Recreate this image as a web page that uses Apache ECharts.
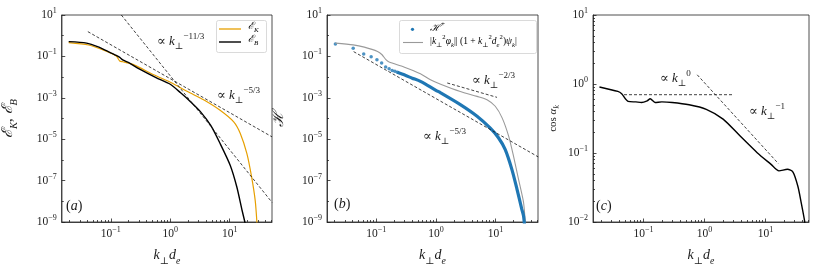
<!DOCTYPE html>
<html><head><meta charset="utf-8">
<script src="https://cdn.jsdelivr.net/npm/echarts@6/dist/echarts.min.js"></script>
<style>html,body{margin:0;padding:0;background:#fff}#c{width:822px;height:271px}</style>
</head><body><div id="c"></div>
<script>
// ---------- data ----------
// panel (a)
const kA_B = [0.0195,0.039,0.063,0.084,0.123,0.141,0.158,0.2,0.3,0.575,1.0,1.51,2.19,3.24,4.8,6.9,10.2,13.2,16.2,18.5,19.5];
const eB   = [0.52,0.44,0.28,0.19,0.112,0.089,0.068,0.05,0.025,0.0095,0.0045,0.0017,6.5e-4,2.1e-4,4.6e-5,6.2e-6,5.5e-7,4.9e-8,3.6e-9,7e-10,2e-10];
const kA_K = [0.0195,0.042,0.069,0.123,0.141,0.16,0.2,0.25,0.54,1.02,1.95,3.7,6.9,11.7,15.1,19.5,23.4,26.9,28.8,29.5];
const eK   = [0.46,0.355,0.22,0.105,0.06,0.055,0.047,0.038,0.0126,0.0055,0.002,7.8e-4,2.5e-4,6.9e-5,1.9e-5,2e-6,1.5e-7,1.1e-8,9e-10,2e-10];
const refA53k = [0.041,51.6], refA53v = [1.57,1.3e-5];
const refA113k = [0.15,51.6], refA113v = [10,8.9e-9];
// panel (b)
const kB_dots = [0.0206,0.041,0.0615,0.082,0.1025,0.123,0.1435,0.164,0.1845,0.205,0.2255];
const hDots   = [0.40,0.25,0.129,0.095,0.069,0.048,0.031,0.025,0.021,0.019,0.017];
const kB_line = [0.2255,0.3,0.4,0.55,1.0,1.2,2.57,4.9,8.1,11.2,14.5,18.8,22.9,27.5,29.5,31];
const hLine   = [0.017,0.0125,0.0089,0.0062,0.0023,0.00174,4.7e-4,1.29e-4,3.5e-5,1.17e-5,3.2e-6,3.5e-7,3.9e-8,4.3e-9,2e-9,5e-10];
const kB_g = [0.0206,0.041,0.063,0.105,0.125,0.145,0.164,0.29,0.55,0.81,1.2,2.57,4.9,7.2,9.9,12.9,16.6,20,24.3,29.5,31.6,33];
const gV   = [0.44,0.36,0.28,0.174,0.12,0.069,0.054,0.031,0.0145,0.0074,0.0045,0.002,0.00117,8.1e-4,3.9e-4,1.07e-4,1.4e-5,1.55e-6,1.17e-7,8.9e-9,1e-9,3e-10];
const refB53k = [0.0417,52], refB53v = [0.17,1.4e-6];
const refB23k = [1.55,10.6], refB23v = [0.0052,0.00105];
// panel (c)
const kC = [0.019,0.038,0.044,0.056,0.075,0.093,0.115,0.129,0.155,0.2,0.295,0.56,1.07,2.02,3.84,7.3,12.2,16.6,22.9,28.2,33.9,38.5,43.6,45];
const cosA = [0.905,0.78,0.72,0.56,0.55,0.54,0.57,0.61,0.54,0.55,0.54,0.5,0.43,0.31,0.176,0.101,0.069,0.055,0.058,0.053,0.033,0.019,0.0105,0.008];
const refC0k = [0.048,3.0], refC0v = [0.70,0.70];
const refC1k = [0.76,16.3], refC1v = [1.36,0.070];
// tick labels
const xLabelVals = [0.1,1,10];
const yLabelValsAB = [1e-9,1e-7,1e-5,1e-3,1e-1,10];
const yLabelValsC = [1e-2,1e-1,1,10];

// ---------- styles / layout ----------
const F = "'Liberation Serif','DejaVu Serif',serif";
const C = '#1a1a1a';
const ORANGE = '#E69F00', BLUE = '#1f77b4', GRAY = '#9a9a9a';
const XMIN = 0.0149, XMAX = 51.6;
const grids = [
  {left:60, top:15, width:212, height:208},
  {left:327, top:15, width:211, height:208},
  {left:593, top:15, width:216, height:208}
];
function rich(s){
  return {
    n:{fontFamily:F,fontSize:s,color:C,lineHeight:s*1.5},
    i:{fontFamily:F,fontSize:s,color:C,fontStyle:'italic',lineHeight:s*1.5},
    c:{fontFamily:"'DejaVu Serif',serif",fontSize:s,color:C,fontStyle:'italic',lineHeight:s*1.5},
    sub:{fontFamily:F,fontSize:s*0.7,color:C,verticalAlign:'bottom',lineHeight:s*0.7},
    isub:{fontFamily:F,fontSize:s*0.7,color:C,fontStyle:'italic',verticalAlign:'bottom',lineHeight:s*0.7},
    sup:{fontFamily:F,fontSize:s*0.7,color:C,verticalAlign:'top',lineHeight:s*0.7}
  };
}
const tickRich = {
  b:{fontFamily:F,fontSize:11.5,color:C,lineHeight:16},
  s:{fontFamily:F,fontSize:8,color:C,verticalAlign:'top',lineHeight:8}
};
function fmtPow(v){ const e=Math.round(Math.log10(v)); return '{b|10}{s|'+(e<0?'\u2212'+(-e):e)+'}'; }
function decades(a,b){ const r=[]; for(let e=Math.ceil(Math.log10(a)-1e-9); e<=Math.floor(Math.log10(b)+1e-9); e++) r.push(Math.pow(10,e)); return r; }
function minors(a,b){ const r=[]; for(let e=Math.floor(Math.log10(a)); e<=Math.ceil(Math.log10(b)); e++) for(let m=2;m<=9;m++){const v=m*Math.pow(10,e); if(v>=a&&v<=b) r.push(v);} return r; }
const lineCol = {color:'#222',width:0.8};

const xAxis=[], yAxis=[];
grids.forEach((g,gi)=>{
  xAxis.push({type:'log',logBase:10,gridIndex:gi,min:XMIN,max:XMAX,position:'bottom',
    axisLine:{show:true,lineStyle:lineCol},
    axisTick:{show:true,inside:true,length:3.5,lineStyle:lineCol,customValues:decades(XMIN,XMAX)},
    axisLabel:{show:true,customValues:xLabelVals,formatter:fmtPow,rich:tickRich,margin:4},
    splitLine:{show:false},minorTick:{show:false},
    name:'{i|k}{sub|\u22a5}{i|d}{isub|e}',nameLocation:'middle',nameGap:23,
    nameTextStyle:{rich:rich(14)}});
  xAxis.push({type:'log',logBase:10,gridIndex:gi,min:XMIN,max:XMAX,position:'bottom',
    axisLine:{show:false},axisTick:{show:true,inside:true,length:2,lineStyle:lineCol,customValues:minors(XMIN,XMAX)},
    axisLabel:{show:false},splitLine:{show:false}});
  const isC = gi===2;
  const ymin = isC?1e-2:1e-9, ymax = 10;
  const lab = isC?yLabelValsC:yLabelValsAB;
  const yname = gi===0 ? '{c|\u2130}{isub|K}{n|, }{c|\u2130}{isub|B}' : gi===1 ? '{c|\u210b}' : '{n|cos }{i|\u03b1}{isub|k}';
  yAxis.push({type:'log',logBase:10,gridIndex:gi,min:ymin,max:ymax,position:'left',
    axisLine:{show:true,lineStyle:lineCol},
    axisTick:{show:true,inside:true,length:3.5,lineStyle:lineCol,customValues:lab},
    axisLabel:{show:true,customValues:lab,formatter:fmtPow,rich:tickRich,margin:5},
    splitLine:{show:false},
    name:yname,nameLocation:'middle',nameRotate:90,nameGap:gi===0?42:(gi===1?37:32),
    nameTextStyle:{rich:rich(gi===2?11:15)}});
  const ym = isC ? minors(ymin,ymax) : decades(ymin,ymax).filter(v=>lab.indexOf(v)<0);
  yAxis.push({type:'log',logBase:10,gridIndex:gi,min:ymin,max:ymax,position:'left',
    axisLine:{show:false},axisTick:{show:true,inside:true,length:2,lineStyle:lineCol,customValues:ym},
    axisLabel:{show:false},splitLine:{show:false}});
});

function pairs(k,v){ return k.map((x,i)=>[x,v[i]]); }
function line(gi,k,v,color,width,type){
  return {type:'line',xAxisIndex:gi*2,yAxisIndex:gi*2,data:pairs(k,v),showSymbol:false,symbol:'none',
    clip:true,silent:true,animation:false,lineStyle:{color:color,width:width,type:type||'solid'},smooth:0.25};
}
function dashed(gi,k,v){ const s=line(gi,k,v,'#111',0.8,[3,2]); s.smooth=false; return s; }
const series = [
  line(0,kA_K,eK,ORANGE,1.2), line(0,kA_B,eB,'#000',1.4),
  dashed(0,refA53k,refA53v), dashed(0,refA113k,refA113v),
  line(1,kB_g,gV,GRAY,1.1), line(1,kB_line,hLine,BLUE,3.2),
  {type:'scatter',xAxisIndex:2,yAxisIndex:2,data:pairs(kB_dots,hDots),symbolSize:3.5,itemStyle:{color:BLUE},silent:true,animation:false},
  dashed(1,refB53k,refB53v), dashed(1,refB23k,refB23v),
  line(2,kC,cosA,'#000',1.4), dashed(2,refC0k,refC0v), dashed(2,refC1k,refC1v)
];

function txt(x,y,text,size){ return {type:'text',left:x,top:y,style:{text:text,rich:rich(size),fill:C},z:100}; }
function ann(x,y,pow){ return txt(x,y,'{n|\u221d }{i|k}{sub|\u22a5}{sup|'+pow+'}',13); }
const R = rich(9.5);
const graphic = [
  ann(157,32,'\u221211/3'), ann(217,86,'\u22125/3'),
  txt(66,199,'{n|(}{i|a}{n|)}',14),
  ann(472,71,'\u22122/3'), ann(423,127,'\u22125/3'),
  txt(334,197,'{n|(}{i|b}{n|)}',14),
  ann(660,69,'0'), ann(749,102,'\u22121'),
  txt(596,199,'{n|(}{i|c}{n|)}',14),
  // legend (a)
  {type:'rect',shape:{x:216.5,y:20.5,width:50,height:32,r:2},style:{fill:'rgba(255,255,255,0.85)',stroke:'#d0d0d0',lineWidth:0.8},z:90},
  {type:'line',shape:{x1:219,y1:29,x2:241,y2:29},style:{stroke:ORANGE,lineWidth:1.3},z:91},
  {type:'line',shape:{x1:219,y1:42,x2:241,y2:42},style:{stroke:'#000',lineWidth:1.4},z:91},
  {type:'text',left:248,top:21,style:{text:'{c|\u2130}{isub|K}',rich:rich(10)},z:92},
  {type:'text',left:248,top:34,style:{text:'{c|\u2130}{isub|B}',rich:rich(10)},z:92},
  // legend (b)
  {type:'rect',shape:{x:399.5,y:20.5,width:137,height:33,r:2},style:{fill:'rgba(255,255,255,0.85)',stroke:'#d0d0d0',lineWidth:0.8},z:90},
  {type:'circle',shape:{cx:412.5,cy:29.3,r:1.6},style:{fill:BLUE},z:91},
  {type:'line',shape:{x1:403,y1:42.5,x2:423,y2:42.5},style:{stroke:GRAY,lineWidth:1.1},z:91},
  {type:'text',left:430,top:21,style:{text:'{c|\u210b}{sup|+}',rich:rich(10)},z:92},
  {type:'text',left:430,top:34,style:{text:'{n||}{i|k}{sub|\u22a5}{sup|2}{i|\u03c6}{isub|k}{n||| (1 + }{i|k}{sub|\u22a5}{sup|2}{i|d}{isub|e}{sup|2}{n|)}{i|\u03c8}{isub|k}{n||}',rich:R},z:92}
];

const chart = echarts.init(document.getElementById('c'),null,{renderer:'canvas'});
chart.setOption({
  animation:false,
  backgroundColor:'#fff',
  grid:grids.map(g=>Object.assign({show:true,borderColor:'#222',borderWidth:0.8,backgroundColor:'transparent'},g)),
  xAxis:xAxis, yAxis:yAxis, series:series, graphic:graphic
});
</script></body></html>
